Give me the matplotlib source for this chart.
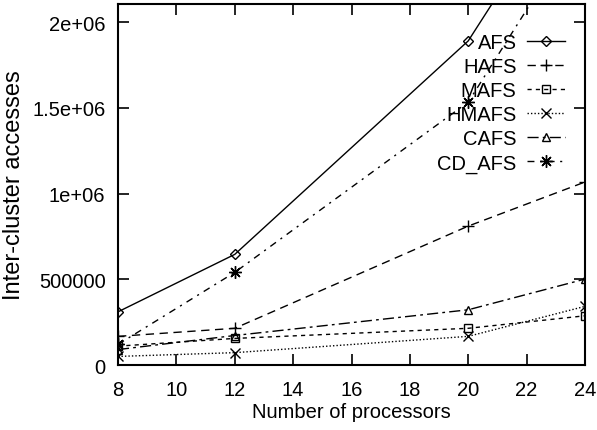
import matplotlib
matplotlib.use("Agg")
import matplotlib.pyplot as plt

FONT = "Liberation Sans"

procs = [8, 12, 20, 24]
AFS = [310000, 645000, 1890000, 2950000]
HAFS = [167000, 214000, 810000, 1067000]
MAFS = [110000, 155000, 214000, 287000]
HMAFS = [50000, 72000, 167000, 342000]
CAFS = [90000, 172000, 322000, 501000]
CD_AFS = [120000, 540000, 1533000, 2610000]

labels = ["AFS", "HAFS", "MAFS", "HMAFS", "CAFS", "CD_AFS"]
xticks = [8, 10, 12, 14, 16, 18, 20, 22, 24]
yticks = [0, 500000, 1000000, 1500000, 2000000]
ytick_labels = ["0", "500000", "1e+06", "1.5e+06", "2e+06"]

fig = plt.figure(figsize=(5.97, 4.31), dpi=100)
ax = fig.add_axes([118/597, 1-366/431, (585-118)/597, (366-5)/431])

styles = [
    dict(ls="-", marker="D", ms=5),
    dict(ls=(0, (6, 4)), marker="+", ms=8),
    dict(ls=(0, (3, 3)), marker="s", ms=6),
    dict(ls=(0, (1, 1.5)), marker="x", ms=7),
    dict(ls=(0, (8, 3, 2, 3)), marker="^", ms=6),
    dict(ls=(0, (5, 4, 1.5, 4)), marker=(8, 2, 0), ms=9),
]
series = [AFS, HAFS, MAFS, HMAFS, CAFS, CD_AFS]
for s, lab, st in zip(series, labels, styles):
    ax.plot(procs, s, color="black", lw=1.0, mfc="none", mec="black", mew=1.0,
            label=lab, ls=st["ls"], marker=st["marker"], ms=st["ms"], clip_on=True)

ax.set_xlim(8, 24)
ax.set_ylim(0, 2105000)
ax.set_xticks(xticks)
ax.set_xticklabels([str(t) for t in xticks])
ax.set_yticks(yticks)
ax.set_yticklabels(ytick_labels)
ax.tick_params(direction="in", length=8, width=1.2, top=True, right=True,
               labelsize=14.5, pad=9)
ax.tick_params(axis="x", pad=11)
for lbl in ax.get_xticklabels() + ax.get_yticklabels():
    lbl.set_fontfamily(FONT)
for sp in ax.spines.values():
    sp.set_linewidth(1.5)

ax.set_xlabel("Number of processors", fontsize=14.5, fontfamily=FONT, labelpad=2)
ax.set_ylabel("Inter-cluster accesses", fontsize=17, fontfamily=FONT)
ax.yaxis.set_label_coords(-0.199, 0.5)

leg = ax.legend(loc="upper right", frameon=False, markerfirst=False,
                prop={"family": FONT, "size": 14.5}, handlelength=1.9,
                handletextpad=0.5, labelspacing=0.25, borderpad=0,
                borderaxespad=0, bbox_to_anchor=(0.957, 0.919))

fig.savefig("out.png", dpi=100)
